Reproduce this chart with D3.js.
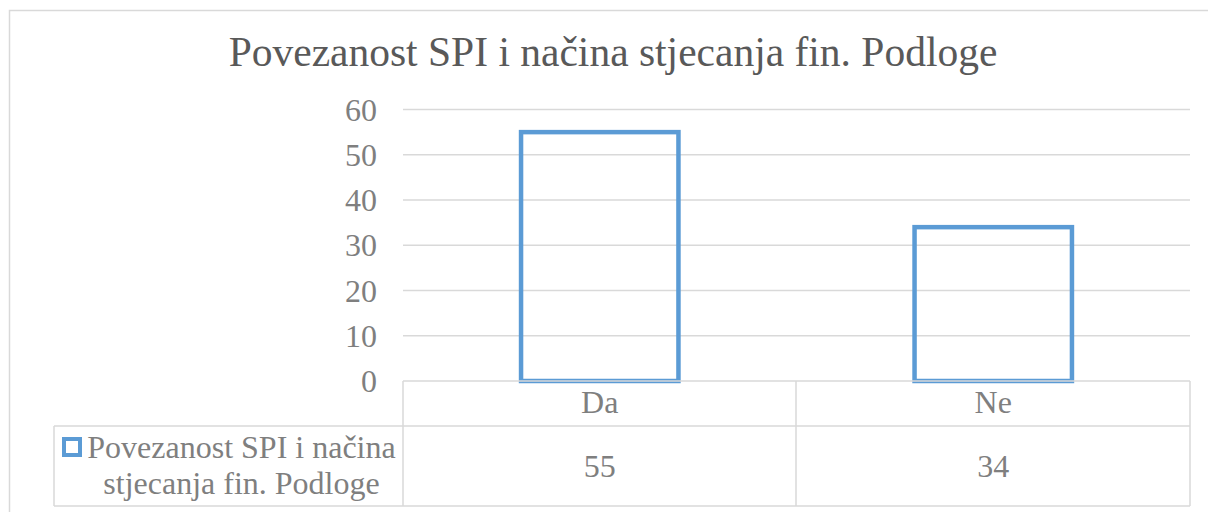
<!DOCTYPE html>
<html><head><meta charset="utf-8">
<script src="https://cdn.jsdelivr.net/npm/d3@7"></script>
<style>
html,body{margin:0;padding:0;background:#fff;}
svg{display:block;}
</style></head>
<body>
<svg id="c" width="1208" height="512"></svg>
<script>
const title = "Povezanost SPI i načina stjecanja fin. Podloge";
const categories = ["Da", "Ne"];
const values = [55, 34];
const seriesName = ["Povezanost SPI i načina", "stjecanja fin. Podloge"];
const yTicks = [0, 10, 20, 30, 40, 50, 60];

const FONT = "Liberation Serif";
const svg = d3.select("#c");
const gridCol = "#d9d9d9", textCol = "#7f7f7f", barCol = "#5b9bd5";

// outer chart border
svg.append("rect").attr("x", 9.5).attr("y", 10.5).attr("width", 1250).attr("height", 600)
  .attr("fill", "#fff").attr("stroke", gridCol).attr("stroke-width", 1.5);

// title
svg.append("text").attr("x", 613).attr("y", 66).attr("text-anchor", "middle")
  .attr("font-family", FONT).attr("font-size", 41.5).attr("fill", "#595959").text(title);

const x = d3.scaleBand().domain(categories).range([403, 1190]).paddingInner(0.6).paddingOuter(0.3);
const cell = d3.scaleBand().domain(categories).range([403, 1190]).padding(0);
const y = d3.scaleLinear().domain([0, 60]).range([381, 109.5]);

// gridlines
svg.append("g").selectAll("line").data(yTicks.filter(d => d > 0)).join("line")
  .attr("x1", 403).attr("x2", 1190).attr("y1", d => y(d)).attr("y2", d => y(d))
  .attr("stroke", gridCol).attr("stroke-width", 1.3);

// y tick labels
svg.append("g").selectAll("text").data(yTicks).join("text")
  .attr("x", 377).attr("y", d => y(d)).attr("dy", "0.35em").attr("text-anchor", "end")
  .attr("font-family", FONT).attr("font-size", 32).attr("fill", textCol).text(d => d);

// bars
svg.append("g").selectAll("rect").data(values).join("rect")
  .attr("x", (d, i) => x(categories[i])).attr("width", x.bandwidth())
  .attr("y", d => y(d)).attr("height", d => y(0) - y(d))
  .attr("fill", "none").attr("stroke", barCol).attr("stroke-width", 4.5);

// data table
const tbl = svg.append("g").attr("stroke", gridCol).attr("stroke-width", 1.5).attr("fill", "none");
tbl.append("line").attr("x1", 403).attr("x2", 1190).attr("y1", 381).attr("y2", 381);
tbl.append("line").attr("x1", 54).attr("x2", 1190).attr("y1", 426).attr("y2", 426);
tbl.append("line").attr("x1", 54).attr("x2", 1190).attr("y1", 506).attr("y2", 506);
tbl.append("line").attr("x1", 54).attr("x2", 54).attr("y1", 426).attr("y2", 506);
[403, 796, 1190].forEach(xx => tbl.append("line").attr("x1", xx).attr("x2", xx).attr("y1", 381).attr("y2", 506));

// category labels
svg.append("g").selectAll("text").data(categories).join("text")
  .attr("x", d => cell(d) + cell.bandwidth() / 2).attr("y", 413)
  .attr("text-anchor", "middle").attr("font-family", FONT).attr("font-size", 32).attr("fill", textCol).text(d => d);

// values
svg.append("g").selectAll("text").data(values).join("text")
  .attr("x", (d, i) => cell(categories[i]) + cell.bandwidth() / 2).attr("y", 477)
  .attr("text-anchor", "middle").attr("font-family", FONT).attr("font-size", 32).attr("fill", textCol).text(d => d);

// legend key
svg.append("rect").attr("x", 64).attr("y", 439).attr("width", 16).attr("height", 16)
  .attr("fill", "#fff").attr("stroke", barCol).attr("stroke-width", 4);
svg.append("g").selectAll("text").data(seriesName).join("text")
  .attr("x", 241.5).attr("y", (d, i) => 457.5 + i * 36.5).attr("text-anchor", "middle")
  .attr("font-family", FONT).attr("font-size", 32).attr("fill", textCol).text(d => d);
</script>
</body></html>
